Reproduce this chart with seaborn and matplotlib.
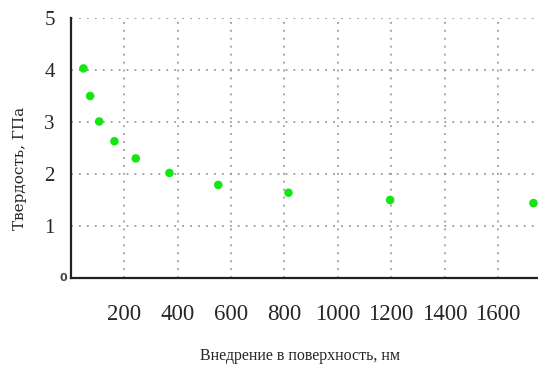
import matplotlib
matplotlib.use("Agg")
import matplotlib.pyplot as plt
import seaborn as sns
import pandas as pd
from matplotlib.ticker import MultipleLocator

depth_nm = [47, 72, 106, 163, 243, 369, 552, 815, 1196, 1733]
hardness_gpa = [4.03, 3.50, 3.01, 2.63, 2.30, 2.02, 1.79, 1.64, 1.50, 1.44]
x_ticks = [200, 400, 600, 800, 1000, 1200, 1400, 1600]
y_ticks = [1, 2, 3, 4, 5]
x_label = "Внедрение в поверхность, нм"
y_label = "Твердость, ГПа"

sns.set_style("white")
plt.rcParams['font.family'] = ['Liberation Serif', 'DejaVu Serif']

df = pd.DataFrame({"depth": depth_nm, "hardness": hardness_gpa})

fig = plt.figure(figsize=(5.38, 3.65), dpi=100)
ax = fig.add_axes([0.1318, 0.2384, 0.8682, 0.7123])

sns.scatterplot(data=df, x="depth", y="hardness", ax=ax, color="#14e614",
                s=38, edgecolor="none", clip_on=False, zorder=5)

ax.set_xlim(0, 1750)
ax.set_ylim(0, 5)
ax.set_xticks(x_ticks)
ax.set_xticklabels([str(v) for v in x_ticks], fontsize=16.5)
ax.set_yticks(y_ticks)
ax.set_yticklabels([str(v) for v in y_ticks], fontsize=15)
ax.xaxis.set_minor_locator(MultipleLocator(100))
ax.yaxis.set_minor_locator(MultipleLocator(0.5))
ax.tick_params(axis="both", which="both", direction="inout", length=7,
               width=1.2, color="#222222")
ax.tick_params(axis="x", which="major", pad=15)
ax.tick_params(axis="y", which="major", pad=8)

ax.grid(True, which="major", color="#8a8a8a", linestyle=(0, (1.2, 4)), linewidth=1.1)

for side in ["top", "right"]:
    ax.spines[side].set_visible(False)
for side in ["left", "bottom"]:
    ax.spines[side].set_color("#222222")
    ax.spines[side].set_linewidth(1.6)

ax.annotate("0", xy=(0, 0), xycoords=ax.get_yaxis_transform(),
            xytext=(-3, 0), textcoords="offset points", ha="right", va="center",
            fontsize=8, fontweight="bold", family=["DejaVu Sans"], color="#444444")

ax.set_xlabel(x_label, fontsize=11.5)
ax.set_ylabel(y_label, fontsize=11, family=["DejaVu Serif"])
ax.xaxis.set_label_coords(0.49, -0.27)
ax.yaxis.set_label_coords(-0.093, 0.423)

fig.savefig("out.png", dpi=100)
